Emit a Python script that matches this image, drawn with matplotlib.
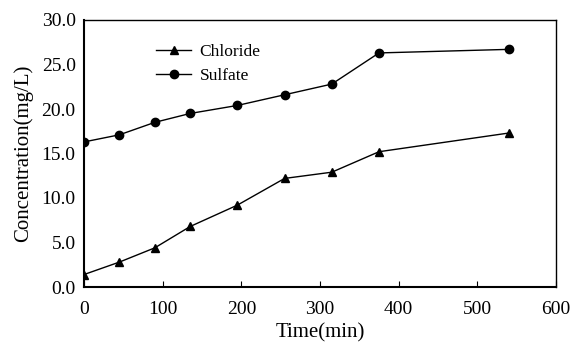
import matplotlib
matplotlib.use("Agg")
import matplotlib.pyplot as plt

time_min = [0, 45, 90, 135, 195, 255, 315, 375, 540]
chloride = [1.4, 2.8, 4.4, 6.8, 9.2, 12.2, 12.9, 15.2, 17.3]
sulfate = [16.3, 17.1, 18.5, 19.5, 20.4, 21.6, 22.8, 26.3, 26.7]
xticks = [0, 100, 200, 300, 400, 500, 600]
yticks = [0, 5, 10, 15, 20, 25, 30]

plt.rcParams['font.family'] = ['Liberation Serif', 'DejaVu Serif']

fig = plt.figure(figsize=(5.7, 3.48), dpi=100)
ax = fig.add_axes([84/570, 1-287/348, (556-84)/570, (287-20)/348])

ax.plot(time_min, chloride, color='black', marker='^', markersize=6, linewidth=1, label='Chloride')
ax.plot(time_min, sulfate, color='black', marker='o', markersize=6, linewidth=1, label='Sulfate')

ax.set_xlim(0, 600)
ax.set_ylim(0, 30)
ax.set_xticks(xticks)
ax.set_yticks(yticks)
ax.set_yticklabels([f"{v:.1f}" for v in yticks])
ax.tick_params(axis='x', direction='in', length=4, labelsize=14, pad=10)
ax.tick_params(axis='y', direction='in', length=0, labelsize=14, pad=6)
for s in ax.spines.values():
    s.set_linewidth(1)
ax.spines['bottom'].set_linewidth(1.5)
ax.spines['left'].set_linewidth(1.5)

ax.set_xlabel('Time(min)', fontsize=15, labelpad=4)
ax.set_ylabel('Concentration(mg/L)', fontsize=15, labelpad=6)

leg = ax.legend(loc='upper left', bbox_to_anchor=(0.12, 0.97), frameon=False, fontsize=12.5,
                handlelength=2.0, labelspacing=0.45, handletextpad=0.5)

fig.savefig('out.png', dpi=100)
